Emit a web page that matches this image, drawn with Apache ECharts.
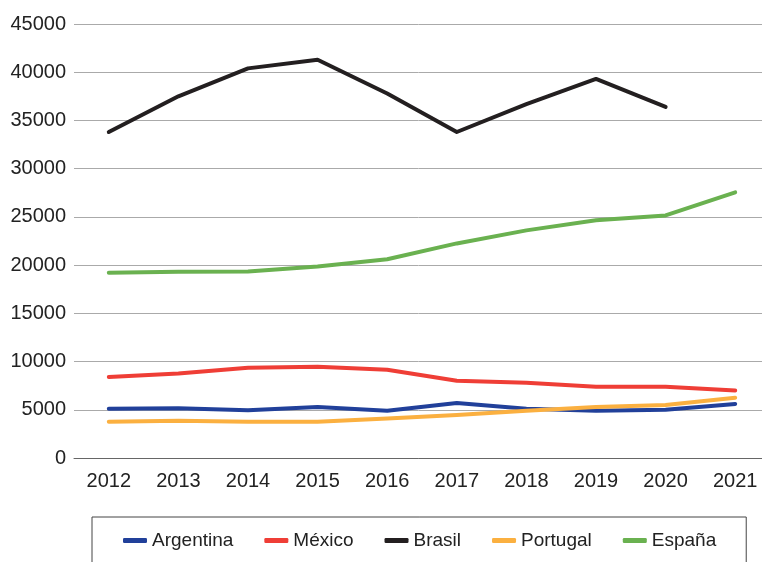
<!DOCTYPE html>
<html>
<head>
<meta charset="utf-8">
<script src="https://cdn.jsdelivr.net/npm/echarts@6/dist/echarts.min.js"></script>
<style>
  html, body { margin: 0; padding: 0; background: #fff; }
  #chart { width: 762px; height: 562px; }
</style>
</head>
<body>
<div id="chart"></div>
<script>
const years = ['2012', '2013', '2014', '2015', '2016', '2017', '2018', '2019', '2020', '2021']
const argentina = [5100, 5150, 4950, 5300, 4900, 5700, 5100, 4900, 5000, 5600]
const mexico = [8400, 8750, 9350, 9450, 9150, 8000, 7800, 7400, 7400, 7000]
const brasil = [33800, 37500, 40400, 41300, 37800, 33800, 36700, 39300, 36400, null]
const portugal = [3750, 3850, 3750, 3750, 4100, 4450, 4900, 5300, 5500, 6250]
const espana = [19200, 19300, 19350, 19850, 20600, 22250, 23600, 24650, 25150, 27550]

const chart = echarts.init(document.getElementById('chart'))

const mkLine = (name, data, color) => ({
  name,
  type: 'line',
  data,
  symbol: 'none',
  lineStyle: { color, width: 4, cap: 'round', join: 'round' },
  itemStyle: { color },
  connectNulls: false
})

chart.setOption({
  animation: false,
  textStyle: { fontFamily: 'Liberation Sans' },
  grid: { left: 74, right: -8, top: 24, bottom: 104, outerBoundsMode: 'none' },
  xAxis: {
    type: 'category',
    data: years,
    boundaryGap: true,
    axisTick: { show: false },
    axisLine: { show: true, lineStyle: { color: '#666', width: 1 } },
    axisLabel: { color: '#222', fontSize: 20, margin: 13 }
  },
  yAxis: {
    type: 'value',
    min: 0,
    max: 45000,
    interval: 5000,
    axisLine: { show: false },
    axisTick: { show: false },
    axisLabel: { color: '#222', fontSize: 20, margin: 8, formatter: (v) => String(v) },
    splitLine: { lineStyle: { color: '#aaa', width: 1 } }
  },
  legend: {
    top: 517,
    left: 92,
    padding: [14, 30, 20, 31],
    borderColor: '#444',
    borderWidth: 1,
    icon: 'roundRect',
    itemWidth: 24,
    itemHeight: 5,
    itemGap: 31,
    textStyle: { color: '#222', fontSize: 19 },
    data: ['Argentina', 'México', 'Brasil', 'Portugal', 'España']
  },
  series: [
    mkLine('Argentina', argentina, '#21409a'),
    mkLine('México', mexico, '#ef3e36'),
    mkLine('Brasil', brasil, '#231f20'),
    mkLine('Portugal', portugal, '#fbb040'),
    mkLine('España', espana, '#6ab150')
  ]
})
</script>
</body>
</html>
